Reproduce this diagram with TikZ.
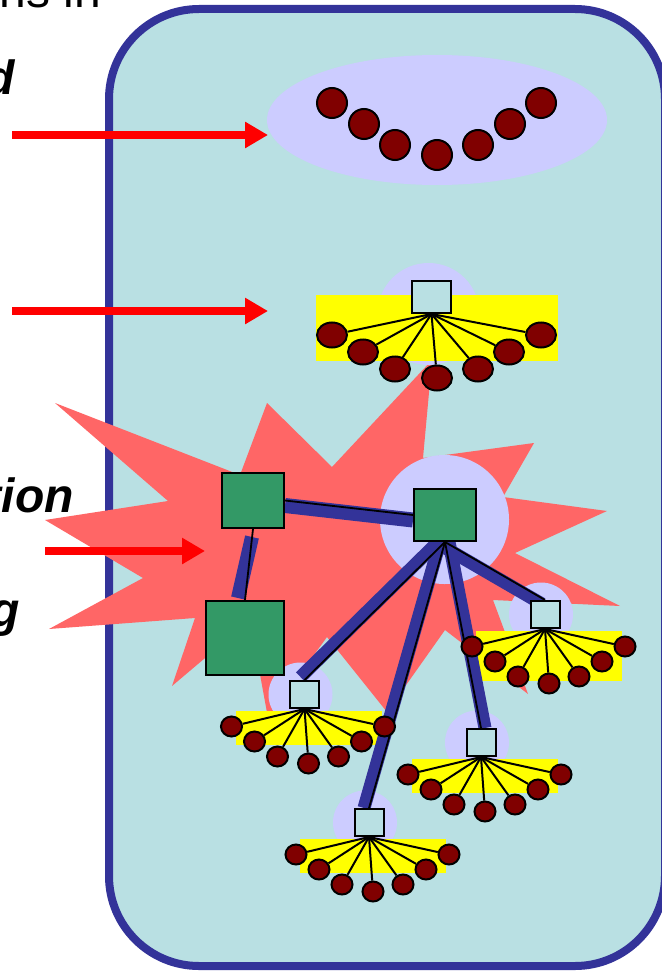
\documentclass[tikz,border=0pt]{standalone}
\usepackage{fontspec}
\setmainfont{Liberation Sans}
\usetikzlibrary{arrows.meta,shapes.geometric,calc}
\definecolor{cellcyan}{RGB}{185,224,227}
\definecolor{cellblue}{RGB}{51,51,153}
\definecolor{halolilac}{RGB}{204,204,255}
\definecolor{burstred}{RGB}{255,102,102}
\definecolor{leafred}{RGB}{128,0,0}
\definecolor{hubgreen}{RGB}{51,153,102}
\definecolor{trayyellow}{RGB}{255,255,0}
\definecolor{pointred}{RGB}{255,0,0}
\pgfdeclarelayer{back}
\pgfdeclarelayer{links}
\pgfsetlayers{back,links,main}

% small switch with its seven hosts: name, x, y, height of the yellow tray
\newcommand{\subnet}[4]{%
  \begin{pgfonlayer}{back}
    \fill[halo] (#2-4,#3) circle (32pt);
    \fill[tray] (#2-69,#3+16.5) rectangle (#2+77,#3+16.5+#4);
  \end{pgfonlayer}
  \node[port] (#1) at (#2,#3) {};
  \foreach \dx/\dy [count=\i] in {-73/32,-50/47,-27/62,4/69,34/62,57/47,80/32}{
    \node[leaf] (#1-\i) at (#2+\dx,#3+\dy) {};
    \draw[spoke] (#1.south) -- (#1-\i);
  }
}

\begin{document}
\begin{tikzpicture}[x=1pt,y=-1pt,
  halo/.style={fill=halolilac},
  tray/.style={fill=trayyellow},
  leaf/.style={ellipse,draw=black,line width=2pt,fill=leafred,inner sep=0pt,
               minimum width=21pt,minimum height=20pt},
  bigleaf/.style={leaf,minimum width=30pt,minimum height=25pt},
  bead/.style={circle,draw=black,line width=2pt,fill=leafred,inner sep=0pt,minimum size=30pt},
  port/.style={rectangle,draw=black,line width=2pt,fill=cellcyan,inner sep=0pt,
               minimum width=29pt,minimum height=27pt},
  router/.style={rectangle,draw=black,line width=2pt,fill=hubgreen,inner sep=0pt},
  spoke/.style={black,line width=2pt},
  band/.style={cellblue,line width=13pt},
  wire/.style={black,line width=1.8pt},
  pointer/.style={pointred,line width=8pt,-{Triangle[length=23pt,width=25pt]}},
  cut/.style={font=\fontsize{48}{56}\selectfont,inner sep=0pt,anchor=base east},
  cutbold/.style={cut,font=\fontsize{48}{56}\selectfont\bfseries\itshape}
]
\useasboundingbox (0,0) rectangle (661,971);
\clip (0,0) rectangle (661,971);

\begin{pgfonlayer}{back}
  \fill[white] (0,0) rectangle (661,971);
  \draw[cellblue,fill=cellcyan,line width=8pt,rounded corners=90pt] (109,9) rectangle (665,966);
  \fill[halo] (437,120) ellipse [x radius=170pt,y radius=65pt];
  % the burst
  \fill[burstred] (432,360) -- (423,458) -- (534,443) -- (503,497) -- (607,511) -- (515,553)
    -- (620,606) -- (493,600) -- (528,694) -- (445,630) -- (387,712) -- (327,637)
    -- (268,718) -- (250,620) -- (172,686) -- (195,618) -- (49,629) -- (143,578)
    -- (45,520) -- (168,501) -- (55,403) -- (240,475) -- (267,403) -- (332,467) -- cycle;
  \fill[halo] (444.5,519.5) circle (64.5pt);
  \fill[halo] (428.5,314) circle (51pt);
  \fill[tray] (316,295) rectangle (558,361);
\end{pgfonlayer}

% loose ring
\foreach \x/\y [count=\i] in {332/103,364/124,395/145,437/155,478/145,510/124,541/103}
  \node[bead] (ring-\i) at (\x,\y) {};

% top switch
\node[port,minimum width=39pt,minimum height=32pt] (rack) at (431.5,297) {};
\foreach \x/\y [count=\i] in {332/335,363/352,395/369,437/378,478/369,509/352,541/335}{
  \node[bigleaf] (rack-\i) at (\x,\y) {};
  \draw[spoke] (rack.south) -- (rack-\i);
}

% routers
\node[router,minimum width=62pt,minimum height=55pt] (relay) at (253,500.5) {};
\node[router,minimum width=78pt,minimum height=74pt] (spare) at (245,638) {};
\node[router,minimum width=62pt,minimum height=52pt] (core) at (445,515) {};

\subnet{subE}{545}{614.5}{50}
\subnet{subW}{304.5}{694.5}{34}
\subnet{subM}{481}{742.5}{34}
\subnet{subS}{369}{822.5}{34}

\begin{pgfonlayer}{links}
  \draw[band,line width=15pt] ($(relay.east)+(0,5)$) -- ($(core.west)+(0,5)$);
  \draw[band,line width=14pt] ($(relay.south)+(-1,8)$) -- ($(spare.north)+(-7,-2)$);
  \draw[band] ($(core.south)+(-4,-3)$) -- ($(subW.north)+(-4,-3)$);
  \draw[band] ($(core.south)+(-5,0)$) -- ($(subS.north)+(-5,0)$);
  \draw[band] ($(core.south)+(4,0)$) -- ($(subM.north)+(4,0)$);
  \draw[band] ($(core.south)+(-3,4)$) -- ($(subE.north)+(-3,4)$);
  \draw[wire] (relay.east) -- (core.west);
  \draw[wire] (relay.south) -- (spare.north);
  \draw[wire] (core.south) -- (subW.north);
  \draw[wire] (core.south) -- (subS.north);
  \draw[wire] (core.south) -- (subM.north);
  \draw[wire] (core.south) -- (subE.north);
\end{pgfonlayer}

% arrows from the slide text
\coordinate (tail1) at (12,135);
\coordinate (head1) at (268,135);
\coordinate (tail2) at (12,311);
\coordinate (head2) at (268,311);
\coordinate (tail3) at (45,551);
\coordinate (head3) at (205,551);
\draw[pointer] (tail1) -- (head1);
\draw[pointer] (tail2) -- (head2);
\draw[pointer] (tail3) -- (head3);

\node[cut] (txt1) at (101,8) {ns in};
\node[cutbold] (txt2) at (15,95) {d};
\node[cutbold] (txt3) at (74,512) {tion};
\node[cutbold] (txt4) at (20,626) {g};
\end{tikzpicture}
\end{document}
